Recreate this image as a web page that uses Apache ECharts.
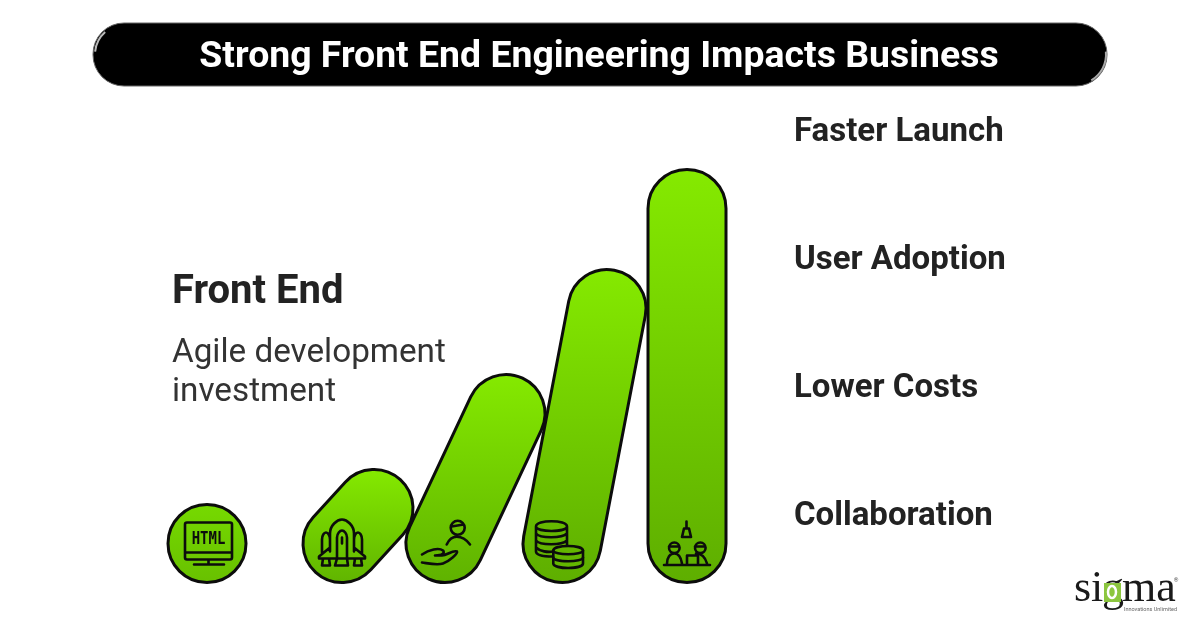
<!DOCTYPE html>
<html>
<head>
<meta charset="utf-8">
<style>html,body{margin:0;padding:0;background:#fff}#chart{width:1200px;height:627px}</style>
<script src="https://cdn.jsdelivr.net/npm/echarts@6/dist/echarts.min.js"></script>
</head>
<body>
<div id="chart"></div>
<script>
var titleText = 'Strong Front End Engineering Impacts Business';
var stepNames = ['HTML', 'Launch', 'Adoption', 'Costs', 'Collaboration'];
var stepBase = [40, 175, 278, 395, 520];
var stepLean = [0, 32, 61, 45, 0];
var stepHeight = [81, 116, 211, 316, 416];
var impactLabels = ['Faster Launch', 'User Adoption', 'Lower Costs', 'Collaboration'];
var leftTitle = 'Front End';
var leftLines = ['Agile development', 'investment'];

var barWidth = 81;
var topColors = ['#76da00', '#85ea00', '#85ea00', '#85ea00', '#85ea00'];
var bottomColors = ['#68c000', '#60b400', '#5fb200', '#5eae00', '#5eae00'];

var iconPaths = {
    HTML: 'M-20,-21 H23 Q25,-21 25,-19 V14 Q25,16 23,16 H-20 Q-22,16 -22,14 V-19 Q-22,-21 -20,-21 Z M-22,9 H25 M1.5,16 V20 M-13,21 H17',
    Launch: 'M-12,8 V-10 C-12,-18 -5,-24 0,-24 C5,-24 12,-18 12,-10 V8 ' +
        'M-5,14 V-6 C-5,-10 -2,-13 0,-13 C2,-13 5,-10 5,-6 V14 M0,-6 V0 ' +
        'M-12,-4 C-12,-8 -14,-11 -16,-11 C-18,-11 -20,-8 -20,-4 V9 ' +
        'M12,-4 C12,-8 14,-11 16,-11 C18,-11 20,-8 20,-4 V9 ' +
        'M-12,4 L-23,13 V15 H23 V13 L12,4 ' +
        'M-19,15 L-20,22 H-12 L-13,15 M-5,15 L-7,22 H6 L5,15 M13,15 L12,22 H20 L19,15',
    Adoption: 'M12.7,-22.7 A7,7 0 1 1 12.7,-8.7 A7,7 0 1 1 12.7,-22.7 Z M6.5,-17 L18.5,-19 ' +
        'M1.7,1 C4,-4 7,-6.7 11.7,-6.7 C17,-6.7 22,-3 25,1 ' +
        'M-23,11 C-16,6 -6,4 -2,7 C0,9 -2,12 -10,12 H-3 C2,12 8,6 12,8 C13,10 4,18 -2,20 C-8,22 -16,20 -23,19',
    Costs: 'M-26,-17 C-26,-24 5,-24 5,-17 C5,-11 -26,-11 -26,-17 Z M-26,-17 V8 C-26,13 -14,13 -9,13 ' +
        'M5,-17 V3 M-26,-10 C-22,-5 0,-5 5,-10 M-26,-3 C-22,2 0,2 5,-3 M-26,4 C-22,8 -14,9 -9,8',
    Collaboration: 'M-3,-15 H2 L4,-6.5 H-5 Z M-0.5,-22 V-15 ' +
        'M-12.7,-1 A5.3,5.3 0 1 1 -12.7,9.6 A5.3,5.3 0 1 1 -12.7,-1 Z M-18,3 L-8,3 ' +
        'M-20,20 C-20,14 -17,10 -12.7,10 C-8,10 -6,14 -5,20 ' +
        'M13.3,-1 A5.3,5.3 0 1 1 13.3,9.6 A5.3,5.3 0 1 1 13.3,-1 Z M8,3 L18,3 ' +
        'M9,10 C14,10 18,13 20,20 M0,20 V12 H11 V20 M-23,21.5 H23'
};
var coinFront = 'M-8.7,7 C-8.7,1 21,1 21,7 V20 C21,26 -8.7,26 -8.7,20 Z';
var coinLines = 'M-8.7,7 C-8.7,12 21,12 21,7 M-8.7,14 C-8.7,19 21,19 21,14';

var chart = echarts.init(document.getElementById('chart'));

var capsulePath = function (b, t, r) {
    var dx = t[0] - b[0], dy = t[1] - b[1];
    var len = Math.sqrt(dx * dx + dy * dy);
    var ux = len ? dx / len : 0, uy = len ? dy / len : -1;
    var nx = -uy * r, ny = ux * r;
    return 'M' + (t[0] + nx) + ',' + (t[1] + ny) +
        ' L' + (b[0] + nx) + ',' + (b[1] + ny) +
        ' A' + r + ',' + r + ' 0 0 1 ' + (b[0] - nx) + ',' + (b[1] - ny) +
        ' L' + (t[0] - nx) + ',' + (t[1] - ny) +
        ' A' + r + ',' + r + ' 0 0 1 ' + (t[0] + nx) + ',' + (t[1] + ny) + ' Z';
};

var renderStep = function (params, api) {
    var i = params.dataIndex;
    var half = barWidth / 2;
    var b = api.coord([api.value(0), half]);
    var t = api.coord([api.value(0) + api.value(2), api.value(1) - half]);
    var r = api.size([barWidth, 0])[0] / 2 - 1.5;
    var iconStyle = { fill: 'none', stroke: '#0c0c0c', lineWidth: 2.6, lineCap: 'round', lineJoin: 'round' };
    var icon = [{ type: 'path', shape: { pathData: iconPaths[stepNames[i]] }, style: iconStyle }];
    if (stepNames[i] === 'HTML') {
        icon.push({
            type: 'text',
            x: 1.5,
            y: -4.5,
            scaleY: 1.25,
            style: { text: 'HTML', align: 'center', verticalAlign: 'middle', fill: '#0c0c0c', font: 'bold 14px "DejaVu Sans Mono"' }
        });
    }
    if (stepNames[i] === 'Costs') {
        icon.push({ type: 'path', shape: { pathData: coinFront }, style: { fill: '#63b600', stroke: '#0c0c0c', lineWidth: 2.6 } });
        icon.push({ type: 'path', shape: { pathData: coinLines }, style: iconStyle });
    }
    return {
        type: 'group',
        children: [{
            type: 'path',
            shape: { pathData: capsulePath(b, t, r) },
            style: {
                fill: new echarts.graphic.LinearGradient(0, 0, 0, 1, [
                    { offset: 0, color: topColors[i] },
                    { offset: 1, color: bottomColors[i] }
                ]),
                stroke: '#0c0c0c',
                lineWidth: 3
            }
        }, {
            type: 'group',
            x: b[0],
            y: b[1],
            children: icon
        }]
    };
};

var stepData = stepNames.map(function (name, i) {
    return { name: name, value: [stepBase[i], stepHeight[i], stepLean[i]] };
});

var sideTexts = impactLabels.map(function (label, i) {
    return {
        type: 'text', x: 794, y: 133 + i * 128,
        style: { text: label, fill: '#222', font: 'bold 33px Roboto', align: 'left', verticalAlign: 'middle' }
    };
});

var option = {
    animation: false,
    backgroundColor: '#fff',
    grid: { left: 167, right: 472, top: 168, bottom: 43 },
    xAxis: { type: 'value', min: 0, max: 561, show: false },
    yAxis: { type: 'value', min: 0, max: 416, show: false },
    series: [{
        type: 'custom',
        clip: false,
        silent: true,
        renderItem: renderStep,
        encode: { x: 0, y: 1 },
        data: stepData,
        z: 2
    }],
    graphic: [
        { type: 'rect', shape: { x: 93, y: 23, width: 1014, height: 63, r: 31 }, style: { fill: '#000', stroke: '#666', lineWidth: 1 } },
        { type: 'arc', shape: { cx: 125, cy: 54.5, r: 30, startAngle: Math.PI * 1.03, endAngle: Math.PI * 1.27 }, style: { fill: 'none', stroke: '#bbb', lineWidth: 2 } },
        { type: 'arc', shape: { cx: 1076, cy: 54.5, r: 30, startAngle: Math.PI * 0.33, endAngle: -Math.PI * 0.03, clockwise: false }, style: { fill: 'none', stroke: '#aaa', lineWidth: 2 } },
        { type: 'text', x: 599, y: 58, style: { text: titleText, fill: '#fff', font: 'bold 37.4px Roboto', align: 'center', verticalAlign: 'middle' } },
        { type: 'text', x: 172, y: 292.5, style: { text: leftTitle, fill: '#222', font: 'bold 40px Roboto', align: 'left', verticalAlign: 'middle' } },
        { type: 'text', x: 172, y: 353.5, style: { text: leftLines[0], fill: '#333', font: '33.25px Roboto', align: 'left', verticalAlign: 'middle' } },
        { type: 'text', x: 172, y: 392.5, style: { text: leftLines[1], fill: '#333', font: '33.25px Roboto', align: 'left', verticalAlign: 'middle' } },
        { type: 'text', x: 1074, y: 611, style: { text: 'si', fill: '#1a1a1a', font: '44px "Liberation Serif"', align: 'left', verticalAlign: 'bottom' } },
        { type: 'text', x: 1102, y: 611, style: { text: 'g', fill: '#1a1a1a', font: '44px "Liberation Serif"', align: 'left', verticalAlign: 'bottom' } },
        { type: 'rect', shape: { x: 1104, y: 583, width: 17, height: 19 }, style: { fill: '#8cc63f' } },
        { type: 'ellipse', shape: { cx: 1112, cy: 592, rx: 4, ry: 6 }, style: { fill: 'none', stroke: '#fff', lineWidth: 2.5 } },
        { type: 'text', x: 1122, y: 611, style: { text: 'ma', fill: '#1a1a1a', font: '44px "Liberation Serif"', align: 'left', verticalAlign: 'bottom' } },
        { type: 'text', x: 1177, y: 609.5, style: { text: 'Innovations Unlimited', fill: '#666', font: '5.5px Roboto', align: 'right', verticalAlign: 'middle' } },
        { type: 'text', x: 1176, y: 580, style: { text: '®', fill: '#555', font: '6px Roboto', align: 'center', verticalAlign: 'middle' } }
    ].concat(sideTexts)
};
chart.setOption(option);
</script>
</body>
</html>
